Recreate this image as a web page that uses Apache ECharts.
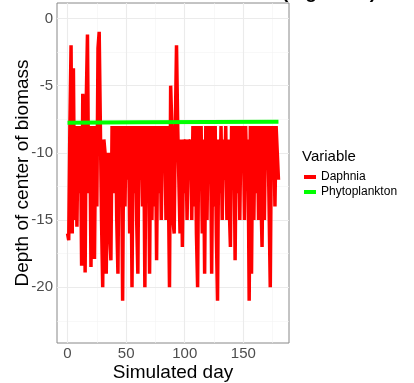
<!DOCTYPE html>
<html><head><meta charset="utf-8">
<script src="https://cdn.jsdelivr.net/npm/echarts@6/dist/echarts.min.js"></script>
<style>html,body{margin:0;padding:0;background:#fff}#c{width:414px;height:383px}</style>
</head><body><div id="c"></div>
<script>
const days = [];
for (let d = 0; d <= 180; d++) days.push(d);
const daphnia = [
-16,-16.5,-8,-2,-16,-3.7,-15,-8,-15.5,-8,
-13,-8,-18.4,-5.6,-8,-18.9,-6,-1.2,-13,-8,
-18.5,-8,-12,-17.9,-8,-14,-2.2,-1,-8,-15,
-20,-9,-10,-19,-13,-10,-16,-18,-8,-10,
-13,-8,-15,-19,-8,-11,-8,-21,-8,-14,
-8,-12,-8,-16,-8,-20,-8,-13,-8,-15,
-19,-8,-12,-8,-14,-8,-20,-8,-11,-8,
-19,-8,-15,-8,-14,-8,-18,-8,-13,-8,
-15,-8,-10,-8,-15,-8,-12,-20,-5,-8,
-15,-16,-8,-2,-8,-12,-16,-9,-17,-9,
-13,-9,-15,-9,-12,-9,-15,-8,-14,-8,
-16,-20,-8,-12,-8,-16,-9,-19,-8,-15,
-8,-12,-8,-19,-8,-14,-8,-16,-21,-9,
-13,-8,-15,-9,-12,-8,-15,-9,-14,-17,
-8,-12,-8,-18,-8,-13,-8,-15,-8,-10,
-8,-15,-8,-12,-9,-21,-8,-19,-8,-15,
-8,-13,-8,-15,-8,-13,-17,-8,-15,-8,
-11,-8,-14,-20,-8,-10,-8,-14,-8,-10,
-12
];
const phytoDays = [0, 60, 120, 180];
const phyto = [-7.76, -7.73, -7.7, -7.68];
const xMajor = [0, 50, 100, 150];
const xMinor = [25, 75, 125, 175];
const yMajor = [0, -5, -10, -15, -20];
const yMinor = [-2.5, -7.5, -12.5, -17.5, -22.5];

const chart = echarts.init(document.getElementById('c'));
const gridLines = [];
xMinor.forEach(v => gridLines.push({xAxis: v, lineStyle: {color: '#f3f3f3', width: 0.6, type: 'solid'}}));
yMinor.forEach(v => gridLines.push({yAxis: v, lineStyle: {color: '#f3f3f3', width: 0.6, type: 'solid'}}));
xMajor.forEach(v => gridLines.push({xAxis: v, lineStyle: {color: '#ebebeb', width: 1.1, type: 'solid'}}));
yMajor.forEach(v => gridLines.push({yAxis: v, lineStyle: {color: '#ebebeb', width: 1.1, type: 'solid'}}));

const font = 'Liberation Sans, Arial, sans-serif';
chart.setOption({
  animation: false,
  textStyle: {fontFamily: font},
  grid: {left: 57, right: 125, top: 3, bottom: 40, containLabel: false, outerBoundsMode: 'none',
         show: true, borderColor: '#888', borderWidth: 1},
  xAxis: {
    type: 'value', min: -9, max: 189,
    axisLine: {show: false},
    axisTick: {show: true, customValues: xMajor, length: 3, lineStyle: {color: '#333'}},
    axisLabel: {customValues: xMajor, color: '#4d4d4d', fontSize: 15, margin: 3},
    splitLine: {show: false},
    name: 'Simulated day', nameLocation: 'middle', nameGap: 20, nameMoveOverlap: false,
    nameTextStyle: {color: '#000', fontSize: 19, verticalAlign: 'top'}
  },
  yAxis: {
    type: 'value', min: -24.15, max: 1.15,
    axisLine: {show: false},
    axisTick: {show: true, customValues: yMajor, length: 3, lineStyle: {color: '#333'}},
    axisLabel: {customValues: yMajor, color: '#4d4d4d', fontSize: 15, margin: 4},
    splitLine: {show: false},
    name: 'Depth of center of biomass', nameLocation: 'middle', nameGap: 25, nameMoveOverlap: false,
    nameTextStyle: {color: '#000', fontSize: 19}
  },
  legend: {
    orient: 'vertical', left: 299, top: 166,
    itemWidth: 12, itemHeight: 4, itemGap: 3,
    icon: 'rect',
    textStyle: {color: '#000', fontSize: 12},
    data: ['Daphnia', 'Phytoplankton']
  },
  graphic: [
    {type: 'text', left: 302, top: 149, style: {text: 'Variable', fontSize: 15, fill: '#000', fontFamily: font}},
    {type: 'text', x: 376, y: 2, style: {text: '(log scale)', fontSize: 19, fontWeight: 'bold', fill: '#000', textAlign: 'right', textVerticalAlign: 'bottom', fontFamily: font}}
  ],
  series: [
    {
      name: 'Daphnia', type: 'line', showSymbol: false, symbol: 'none', z: 3,
      data: days.map((d, i) => [d, daphnia[i]]),
      lineStyle: {color: '#ff0000', width: 3.5}, itemStyle: {color: '#ff0000'},
      markLine: {silent: true, symbol: 'none', label: {show: false}, animation: false, data: gridLines, z: 1}
    },
    {
      name: 'Phytoplankton', type: 'line', showSymbol: false, symbol: 'none', z: 4,
      data: phytoDays.map((d, i) => [d, phyto[i]]),
      lineStyle: {color: '#00ff00', width: 4}, itemStyle: {color: '#00ff00'}
    }
  ]
});
</script></body></html>
